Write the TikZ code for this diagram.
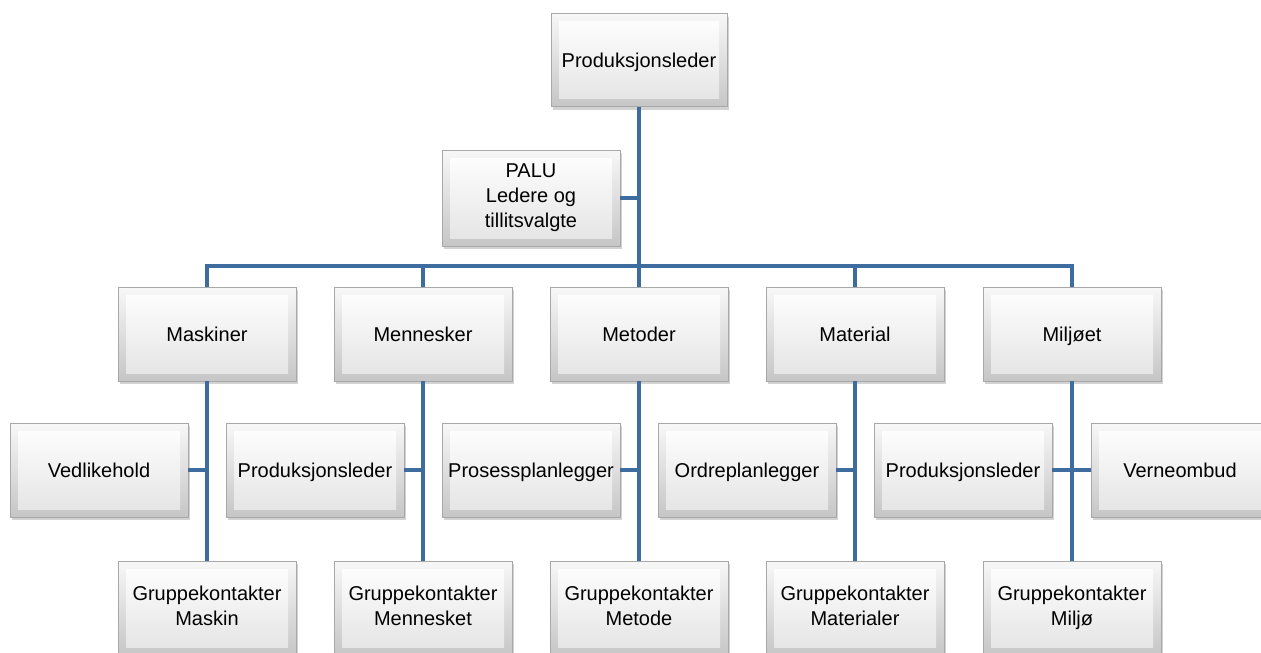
\documentclass[tikz,border=0pt]{standalone}
\usepackage{fontspec}
\setmainfont{Liberation Sans}
\usetikzlibrary{shadows}
\definecolor{linkblue}{HTML}{3F6C9F}
\definecolor{rimgray}{HTML}{A8A8A8}
\newcommand{\boxstrut}{\vrule height 19pt depth 4.8pt width 0pt}
\tikzset{
  bevelbox/.style={
    rectangle, draw=rimgray, line width=0.8pt,
    minimum width=178pt, minimum height=94pt, inner sep=0pt,
    top color=gray!6, bottom color=gray!45,
    drop shadow={opacity=0.35, shadow xshift=2pt, shadow yshift=-3pt},
    align=center, font=\fontsize{20}{25}\selectfont,
    execute at begin node=\boxstrut, execute at end node=\boxstrut,
    path picture={
      \shade[top color=white, bottom color=gray!22]
        ([xshift=8pt,yshift=-8pt]path picture bounding box.north west)
        rectangle
        ([xshift=-8pt,yshift=8pt]path picture bounding box.south east);
    }
  },
  conn/.style={draw=linkblue, line width=3.6pt}
}
\begin{document}
\begin{tikzpicture}[x=1pt,y=-1pt]
\clip (0,0) rectangle (1261,653);
\fill[white] (0,0) rectangle (1261,653);
% top
\node[bevelbox, minimum width=176pt, minimum height=93pt] (top) at (639,60) {Produksjonsleder};
\node[bevelbox, minimum height=96pt] (palu) at (531,198) {PALU\\Ledere og\\tillitsvalgte};
% level 2
\node[bevelbox] (m1) at (207,334) {Maskiner};
\node[bevelbox] (m2) at (423,334) {Mennesker};
\node[bevelbox] (m3) at (639,334) {Metoder};
\node[bevelbox] (m4) at (855,334) {Material};
\node[bevelbox] (m5) at (1072,334) {Miljøet};
% level 3
\node[bevelbox] (v1) at (99,470) {Vedlikehold};
\node[bevelbox] (v2) at (315,470) {Produksjonsleder};
\node[bevelbox] (v3) at (531,470) {Prosessplanlegger};
\node[bevelbox] (v4) at (747,470) {Ordreplanlegger};
\node[bevelbox] (v5) at (963,470) {Produksjonsleder};
\node[bevelbox] (v6) at (1180,470) {Verneombud};
% level 4
\node[bevelbox] (g1) at (207,608) {Gruppekontakter\\Maskin};
\node[bevelbox] (g2) at (423,608) {Gruppekontakter\\Mennesket};
\node[bevelbox] (g3) at (639,608) {Gruppekontakter\\Metode};
\node[bevelbox] (g4) at (855,608) {Gruppekontakter\\Materialer};
\node[bevelbox] (g5) at (1072,608) {Gruppekontakter\\Miljø};
% bus
\coordinate (busL) at (207,266);
\coordinate (busR) at (1072,266);
\draw[conn] (top.south) -- (top.south |- busL);
\draw[conn] (palu.east) -- (palu.east -| top.south);
\draw[conn] ([xshift=-1.8pt]busL) -- ([xshift=1.8pt]busR);
\foreach \i in {1,...,5}{
  \draw[conn] (m\i.north) -- (m\i.north |- busL);
  \draw[conn] (m\i.south) -- (g\i.north);
}
\draw[conn] (v1.east) -- (v1.east -| m1.south);
\draw[conn] (v2.east) -- (v2.east -| m2.south);
\draw[conn] (v3.east) -- (v3.east -| m3.south);
\draw[conn] (v4.east) -- (v4.east -| m4.south);
\draw[conn] (v5.east) -- (v5.east -| m5.south);
\draw[conn] (v6.west) -- (v6.west -| m5.south);
\end{tikzpicture}
\end{document}
